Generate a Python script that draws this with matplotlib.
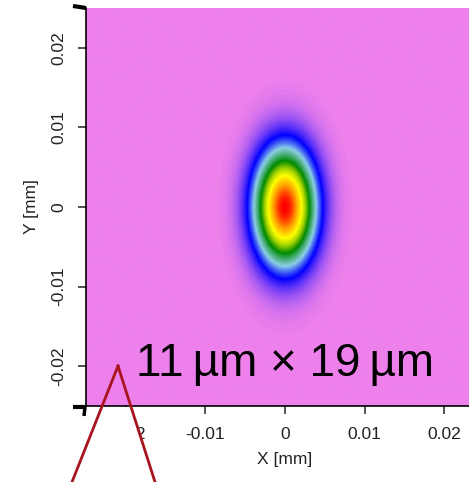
import numpy as np
import matplotlib
matplotlib.use('Agg')
import matplotlib.pyplot as plt
from matplotlib.colors import LinearSegmentedColormap
from matplotlib.lines import Line2D
from matplotlib.patches import Polygon

plt.rcParams['font.family'] = ['Liberation Sans', 'DejaVu Sans']

# beam spot parameters (mm), 1/e^2 radii
half_range = 0.025
w_x = 0.0050
w_y = 0.0095
ticks = [-0.02, -0.01, 0, 0.01, 0.02]
tick_labels = ['-0.02', '-0.01', '0', '0.01', '0.02']
spot_label = '11\u2009µm × 19\u2009µm'

# colour ramp: violet background -> blue -> light blue -> green -> yellow -> red
cmap_pos = [0.0, 0.16, 0.29, 0.47, 0.60, 0.71, 0.86, 1.0]
cmap_col = ['#ee80ec', '#0000ff', '#8ccfe6', '#008a00', '#a8d400', '#ffff00', '#ff9800', '#ff0000']
cmap = LinearSegmentedColormap.from_list('beam', list(zip(cmap_pos, cmap_col)))

x = np.linspace(-half_range, half_range, 500)
y = np.linspace(-half_range, half_range, 500)
X, Y = np.meshgrid(x, y)
intensity = np.exp(-2 * (X / w_x) ** 2 - 2 * (Y / w_y) ** 2)

W, H = 469, 482
fig = plt.figure(figsize=(W / 100, H / 100), dpi=100)
ax = fig.add_axes([86 / W, 1 - 406 / H, 398 / W, 398 / H])
ax.imshow(intensity, cmap=cmap, vmin=0, vmax=1, origin='lower',
          extent=[-half_range, half_range, -half_range, half_range],
          interpolation='bilinear', aspect='auto')
ax.set_xlim(-half_range, half_range)
ax.set_ylim(-half_range, half_range)

ax.set_xticks(ticks)
ax.set_xticklabels(tick_labels)
ax.set_yticks(ticks)
ax.set_yticklabels(tick_labels, rotation=90, va='center')
ax.tick_params(axis='both', direction='out', length=6, width=1.2,
               color='#333333', labelsize=12.5, labelcolor='#222222')
ax.tick_params(axis='x', pad=9)
ax.tick_params(axis='y', pad=8)
ax.set_xlabel('X [mm]', fontsize=12.5, color='#222222', labelpad=7)
ax.set_ylabel('Y [mm]', fontsize=12.5, color='#222222', labelpad=9)
for side in ['top', 'right']:
    ax.spines[side].set_visible(False)
for side in ['left', 'bottom']:
    ax.spines[side].set_linewidth(1.2)
    ax.spines[side].set_color('black')

ax.text(0.0, -0.0212, spot_label, fontsize=33, ha='center', va='baseline', color='black')

# corner marks
def px(xp, yp):
    return xp / W, 1 - yp / H

for (x0, y0), (x1, y1), lw in [((73, 6), (86, 8), 3), ((73, 407), (86, 407), 3),
                                ((85, 407), (84, 416), 2.5)]:
    a, b = px(x0, y0)
    c, d = px(x1, y1)
    fig.add_artist(Line2D([a, c], [b, d], color='black', lw=lw, solid_capstyle='butt'))

# red pointer triangle
apex = (118, 366)
left_foot = (72, 482)
right_foot = (155, 482)
cut_y = 407
def leg_x(foot, yp):
    return apex[0] + (foot[0] - apex[0]) * (yp - apex[1]) / (foot[1] - apex[1])
white = [px(leg_x(left_foot, cut_y), cut_y), px(leg_x(right_foot, cut_y), cut_y),
         px(*right_foot), px(*left_foot)]
fig.add_artist(Polygon(white, closed=True, facecolor='white', edgecolor='none',
                       transform=fig.transFigure, zorder=5))
for foot in [left_foot, right_foot]:
    a, b = px(*apex)
    c, d = px(*foot)
    fig.add_artist(Line2D([a, c], [b, d], color='#a8141e', lw=2, zorder=6))

fig.savefig('out.png', dpi=100)
